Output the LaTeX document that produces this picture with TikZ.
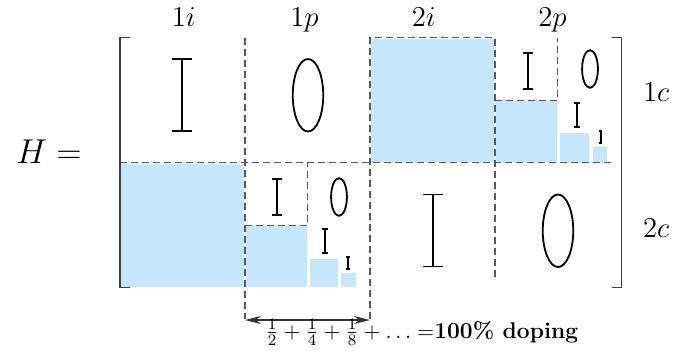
\documentclass[tikz,border=0pt]{standalone}
\usepackage{amsmath,amssymb}
\usetikzlibrary{arrows.meta,positioning}
\definecolor{dopeblue}{RGB}{198,230,253}

\begin{document}
\begin{tikzpicture}[
    x=62.5pt,y=62.5pt,
    dope/.style={fill=dopeblue,draw=white,line width=0.8pt},
    grid/.style={draw=black!65,line width=0.6pt,dash pattern=on 3.5pt off 2pt},
    brack/.style={draw=black!75,line width=0.7pt},
    lab/.style={font=\fontsize{14}{17}\selectfont,anchor=base,inner sep=0pt},
    arr/.style={{Stealth[length=8pt,width=4pt]}-{Stealth[length=8pt,width=4pt]},draw=black!80,line width=0.6pt},
    every pic/.style={line width=0.9pt},
    ibeam/.pic={\draw (-0.08,-0.288) -- (0.08,-0.288) (0,-0.288) -- (0,0.288) (-0.08,0.288) -- (0.08,0.288);},
    oval/.pic={\draw (0,0) ellipse [x radius=0.122,y radius=0.29];}
]
\useasboundingbox (-0.96,-0.498) rectangle (4.56,2.302);

\path[dope] (2,1) rectangle (3,2);
\path[dope] (0,0) rectangle (1,1);
\path[dope] (3,1) rectangle (3.5,1.5);
\path[dope] (3.512,1) rectangle (3.76,1.246);
\path[dope] (3.775,1) rectangle (3.9,1.135);
\path[dope] (1,0) rectangle (1.5,0.5);
\path[dope] (1.512,0) rectangle (1.752,0.24);
\path[dope] (1.765,0) rectangle (1.895,0.127);

\draw[grid] (1,2) -- (1,-0.25);
\draw[grid] (2,-0.25) -- (2,2) -- (3,2) -- (3,0.06);
\draw[grid] (0,1) -- (3.94,1);
\draw[grid] (3,1.5) -- (3.5,1.5) -- (3.5,2);
\draw[grid] (1,0.5) -- (1.5,0.5) -- (1.5,1);

\draw[brack] (0.08,2) -- (0,2) -- (0,0) -- (0.08,0);
\draw[brack] (3.932,2) -- (4.012,2) -- (4.012,0) -- (3.932,0);

\pic at (0.496,1.54) {ibeam};
\pic at (1.504,1.54) {oval};
\pic at (2.504,0.458) {ibeam};
\pic at (3.504,0.456) {oval};
\pic[scale=0.5] at (3.264,1.734) {ibeam};
\pic[scale=0.52] at (3.76,1.75) {oval};
\pic[scale=0.33,line width=0.7pt] at (3.655,1.383) {ibeam};
\pic[scale=0.17,line width=0.6pt] at (3.845,1.205) {ibeam};
\pic[scale=0.5] at (1.256,0.726) {ibeam};
\pic[scale=0.52] at (1.752,0.726) {oval};
\pic[scale=0.33,line width=0.7pt] at (1.64,0.374) {ibeam};
\pic[scale=0.17,line width=0.6pt] at (1.824,0.198) {ibeam};

\node[lab] (c1i) at (0.51,2.088) {$1i$};
\node[lab] (c1p) at (1.476,2.088) {$1p$};
\node[lab] (c2i) at (2.43,2.088) {$2i$};
\node[lab] (c2p) at (3.46,2.088) {$2p$};
\node[lab] (r1c) at (4.29,1.494) {$1c$};
\node[lab] (r2c) at (4.29,0.404) {$2c$};
\node[font=\LARGE,anchor=base west,inner sep=0pt] (ham) at (-0.832,0.998) {$H =$};

\coordinate (dl) at (1,-0.258);
\coordinate (dr) at (2,-0.258);
\draw[arr] (dl) -- (dr);
\node[font=\fontsize{11.4}{13.7}\selectfont,anchor=base west,inner sep=0pt] (sum) at (1.16,-0.402) {$\frac{1}{2}+\frac{1}{4}+\frac{1}{8}+\ldots=$\textbf{100\% doping}};
\end{tikzpicture}
\end{document}
